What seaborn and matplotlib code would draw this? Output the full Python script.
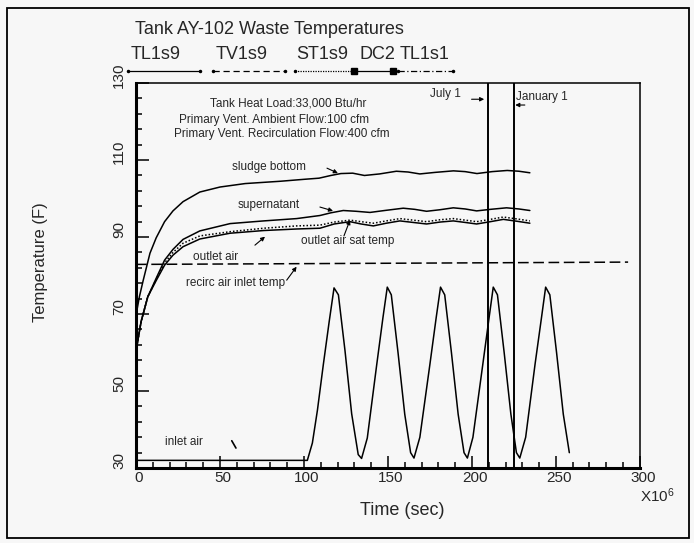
import matplotlib
matplotlib.use("Agg")
import pandas as pd
import matplotlib.pyplot as plt
import matplotlib.transforms as mtransforms
from matplotlib.patches import Rectangle
import seaborn as sns

# --- data (time in 1e6 s, temperature in F) ---
sludge_t = [0, 2, 4.3, 8.3, 12, 17, 22, 28, 38, 50, 65, 86, 100, 109, 116, 122, 129, 136,
            145, 155, 162, 169, 178, 189, 196, 203, 212, 221, 228, 234.5]
sludge_y = [69.7, 74.5, 78.8, 85.8, 89.8, 94.0, 96.8, 99.2, 101.7, 103.0, 103.9, 104.5, 105.0,
            105.3, 106.0, 106.5, 106.6, 106.0, 106.4, 107.1, 106.9, 106.4, 106.8, 107.2, 107.0,
            106.5, 107.0, 107.3, 107.1, 106.7]

super_t = [0, 3, 7, 12, 17, 22, 28, 38, 56, 76, 95.6, 109.5, 116, 123.4, 131, 139.3, 148,
           159.1, 166, 173, 181, 188.9, 196, 202.8, 211, 220.6, 228, 234.5]
super_y = [60.4, 68.0, 74.5, 79.3, 84.0, 86.8, 89.4, 91.6, 93.5, 94.2, 94.8, 95.6, 96.3, 96.9,
           96.7, 96.4, 96.9, 97.5, 97.2, 96.7, 97.1, 97.6, 97.3, 96.8, 97.2, 97.6, 97.3, 96.9]

outlet_t = [0, 3, 7, 12, 17, 22, 28, 38, 56, 76, 95.6, 109.5, 118, 127.4, 134, 141.3, 149,
            157.1, 165, 173, 181, 188.9, 196, 202.8, 211, 218.7, 227, 234.5]
sat_y = [60.4, 68.0, 74.5, 79.0, 83.3, 86.0, 88.4, 90.3, 91.4, 92.3, 92.9, 93.1, 93.9, 94.4,
         94.0, 93.6, 94.2, 94.8, 94.4, 94.0, 94.5, 94.8, 94.4, 94.0, 94.6, 95.2, 94.7, 94.2]
outlet_y = [60.4, 68.0, 74.5, 78.7, 82.7, 85.3, 87.5, 89.5, 91.0, 91.7, 92.1, 92.3, 93.4, 94.0,
            93.4, 92.9, 93.6, 94.2, 93.8, 93.4, 93.9, 94.2, 93.8, 93.4, 94.0, 94.6, 94.1, 93.6]

recirc_t = [0, 100, 200, 293]
recirc_y = [82.9, 83.1, 83.3, 83.5]

inlet_t = [0, 102, 105, 108, 111.5, 115, 117.9, 120.5, 124.4, 128.4, 132.3, 134.3,
           137.7, 143.3, 147, 149.6, 152, 156, 160, 163.5, 165.5,
           169, 175, 178.7, 181.3, 183.8, 187.8, 191.8, 195.3, 197.3,
           200.6, 206.5, 210.2, 212.7, 215.2, 219.2, 223.2, 226.5, 228.5,
           232, 237.6, 241.4, 243.9, 246.4, 250.4, 254.4, 258]
inlet_y = [32, 32, 36.5, 45, 56.8, 68, 76.8, 75, 60.6, 44.1, 33.5, 32.5,
           37.8, 56.8, 69, 77, 75, 60, 44, 34, 32.6,
           38, 57, 69, 77, 75, 60, 44, 34, 32.6,
           38, 57, 69, 77, 75, 60, 44, 34, 32.6,
           38, 57, 69, 77, 75, 60, 44, 34]

july_1 = 209.5
january_1 = 225.3

legend_names = ["TL1s9", "TV1s9", "ST1s9", "DC2", "TL1s1"]

sns.set_theme(style="ticks")
plt.rcParams["font.family"] = ["Liberation Sans", "DejaVu Sans"]
plt.rcParams["mathtext.fontset"] = "custom"
plt.rcParams["mathtext.rm"] = "Liberation Sans"
plt.rcParams["mathtext.it"] = "Liberation Sans"
bg = "#f7f7f7"

fig = plt.figure(figsize=(6.94, 5.43), dpi=100, facecolor=bg)
ax = fig.add_axes([0.196, 0.138, 0.726, 0.709], facecolor=bg)

curves = [
    (sludge_t, sludge_y, "-"),
    (super_t, super_y, "-"),
    (outlet_t, outlet_y, "-"),
    (outlet_t, sat_y, (0, (1, 1.3))),
    (recirc_t, recirc_y, (0, (7, 3))),
    (inlet_t, inlet_y, "-"),
]
for t, y, ls in curves:
    df = pd.DataFrame({"t": t, "y": y})
    sns.lineplot(data=df, x="t", y="y", ax=ax, color="black", lw=1.1,
                 linestyle=ls, estimator=None, sort=False)

ax.axvline(july_1, color="black", lw=1.4)
ax.axvline(january_1, color="black", lw=1.4)

ax.set_xlim(0, 300)
ax.set_ylim(30, 130)
ax.set_xticks(range(0, 301, 50))
ax.set_xticks(range(0, 301, 10), minor=True)
ax.set_yticks(range(30, 131, 20))
ax.set_yticks(range(30, 131, 4), minor=True)
ax.tick_params(which="both", direction="in", color="black", labelsize=11, width=1.1)
ax.tick_params(which="major", length=9)
ax.tick_params(which="minor", length=4.5)
ax.tick_params(axis="x", pad=2)
ax.tick_params(axis="y", pad=7)
for lab in ax.get_yticklabels():
    lab.set_rotation(90)
    lab.set_va("center")
    lab.set_transform(lab.get_transform() + mtransforms.ScaledTranslation(0, 0.08, fig.dpi_scale_trans))
for lab in ax.get_xticklabels():
    lab.set_transform(lab.get_transform() + mtransforms.ScaledTranslation(0.03, 0, fig.dpi_scale_trans))

for side, lw in [("left", 2.2), ("bottom", 2.2), ("top", 1.1), ("right", 1.1)]:
    ax.spines[side].set_visible(True)
    ax.spines[side].set_linewidth(lw)
    ax.spines[side].set_color("black")

ax.set_xlabel("Time (sec)", fontsize=13, va="center")
ax.xaxis.set_label_coords(0.528, -0.109)
ax.set_ylabel("Temperature (F)", fontsize=12)
ax.yaxis.set_label_coords(-0.175, 0.535)

ax.text(1.035, -0.072, "X10$^{6}$", transform=ax.transAxes, fontsize=11, ha="center", va="center")

# --- labels in the plot ---
notes = [
    (90.5, 124.8, "Tank Heat Load:33,000 Btu/hr"),
    (82, 120.4, "Primary Vent. Ambient Flow:100 cfm"),
    (87, 116.8, "Primary Vent. Recirculation Flow:400 cfm"),
    (79.2, 108.2, "sludge bottom"),
    (79.2, 98.3, "supernatant"),
    (125.9, 89.0, "outlet air sat temp"),
    (47.6, 84.8, "outlet air"),
    (59.5, 78.0, "recirc air inlet temp"),
    (28.6, 36.8, "inlet air"),
    (184, 127.1, "July 1"),
    (241.7, 126.4, "January 1"),
]
for x, y, s in notes:
    ax.text(x, y, s, fontsize=8.5, ha="center", va="center")

arrows = [
    ((199.8, 125.8), (207.3, 125.8)),
    ((231.5, 124.3), (225.8, 124.3)),
    ((113.7, 107.9), (120.2, 106.6)),
    ((109.5, 97.8), (117.3, 96.8)),
    ((123.8, 90.3), (127.4, 94.4)),
    ((70.8, 87.9), (76.8, 90.1)),
    ((89.7, 78.8), (95.6, 82.3)),
]
for tail, head in arrows:
    ax.annotate("", xy=head, xytext=tail,
                arrowprops=dict(arrowstyle="-|>", color="black", lw=0.8,
                                mutation_scale=6, shrinkA=0, shrinkB=0))
ax.annotate("", xy=(59.5, 35.2), xytext=(57, 37.1),
            arrowprops=dict(arrowstyle="-", color="black", lw=1.2, shrinkA=0, shrinkB=0))

# --- title and the line key above the axes ---
ax.text(-0.002, 1.138, "Tank AY-102 Waste Temperatures", transform=ax.transAxes,
        fontsize=13, ha="left", va="center")
key_text_x = [0.038, 0.209, 0.370, 0.479, 0.573]
key_x0 = [-0.016, 0.153, 0.315, 0.432, 0.520]
key_x1 = [0.127, 0.296, 0.429, 0.510, 0.629]
key_ls = ["-", (0, (5, 3)), (0, (1, 1)), "-", (0, (5, 2, 1, 2))]
key_mk = [".", ".", ".", "s", "."]
for name, tx, x0, x1, ls, mk in zip(legend_names, key_text_x, key_x0, key_x1, key_ls, key_mk):
    ax.text(tx, 1.073, name, transform=ax.transAxes, fontsize=13, ha="center", va="center")
    ax.plot([x0, x1], [1.031, 1.031], transform=ax.transAxes, clip_on=False,
            color="black", lw=0.9, linestyle=ls, marker=mk,
            markersize=4 if mk == "s" else 3)

fig.add_artist(Rectangle((0.010, 0.009), 0.983, 0.976, transform=fig.transFigure,
                         fill=False, lw=1.3, ec="black"))

fig.savefig("out.png", dpi=100, facecolor=bg)
